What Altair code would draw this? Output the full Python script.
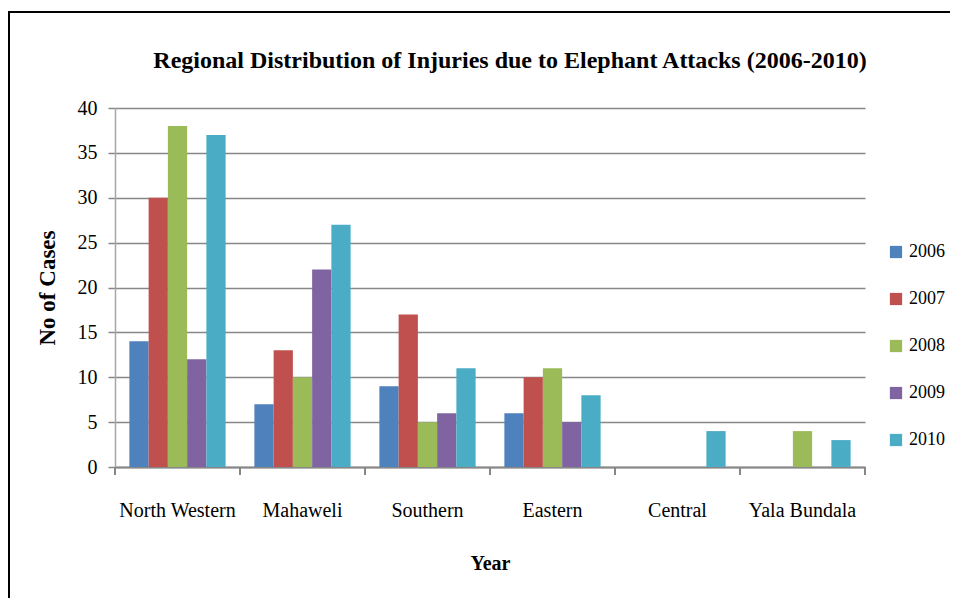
import altair as alt
import pandas as pd

regions = ["North Western", "Mahaweli", "Southern", "Eastern", "Central", "Yala Bundala"]
years = ["2006", "2007", "2008", "2009", "2010"]
cases_2006 = [14, 7, 9, 6, 0, 0]
cases_2007 = [30, 13, 17, 10, 0, 0]
cases_2008 = [38, 10, 5, 11, 0, 4]
cases_2009 = [12, 22, 6, 5, 0, 0]
cases_2010 = [37, 27, 11, 8, 4, 3]
colors = ["#4F81BD", "#C0504D", "#9BBB59", "#8064A2", "#4BACC6"]
y_ticks = [0, 5, 10, 15, 20, 25, 30, 35, 40]
title_text = "Regional Distribution of Injuries due to Elephant Attacks (2006-2010)"

series = [cases_2006, cases_2007, cases_2008, cases_2009, cases_2010]
rows = []
for yr, vals in zip(years, series):
    for reg, v in zip(regions, vals):
        rows.append({"region": reg, "year": yr, "cases": v})
df = pd.DataFrame(rows)

W, H = 750, 359
FONT = "Liberation Serif"

bars = alt.Chart(df).mark_bar().encode(
    x=alt.X("region:N", sort=regions,
            scale=alt.Scale(paddingInner=0.23, paddingOuter=0.115),
            axis=alt.Axis(title="Year", labelAngle=0, ticks=False, grid=False,
                          domainColor="#878787", domainWidth=2,
                          labelPadding=33, labelFont=FONT, labelFontSize=20,
                          labelColor="black", titleFont=FONT, titleFontSize=20,
                          titleFontWeight="bold", titleColor="black",
                          titleY=96, titleX=W / 2, titleBaseline="middle")),
    xOffset=alt.XOffset("year:N", sort=years),
    y=alt.Y("cases:Q", scale=alt.Scale(domain=[0, 40], nice=False),
            axis=alt.Axis(title="No of Cases", values=y_ticks, grid=True,
                          gridColor="#878787", gridWidth=1.6,
                          domainColor="#A6A6A6", domainWidth=1.5,
                          tickColor="#878787", tickSize=7, tickWidth=1.5,
                          labelPadding=11, labelFont=FONT, labelFontSize=20,
                          labelColor="black", titleFont=FONT, titleFontSize=23,
                          titleFontWeight="bold", titleColor="black",
                          titleX=-68, titleY=H / 2, titleAngle=-90,
                          titleAlign="center", titleBaseline="middle")),
    color=alt.Color("year:N", sort=years,
                    scale=alt.Scale(domain=years, range=colors),
                    legend=alt.Legend(orient="none", legendX=772, legendY=135,
                                      title=None, symbolType="square",
                                      symbolSize=150, symbolStrokeWidth=0,
                                      labelFont=FONT, labelFontSize=18,
                                      labelColor="black", rowPadding=29,
                                      labelOffset=4, padding=0)),
)

reg_df = pd.DataFrame({"region": regions})
tick_scale = alt.Scale(paddingInner=0, paddingOuter=0)
ticks_left = alt.Chart(reg_df).mark_rule(color="#878787", strokeWidth=2).encode(
    x=alt.X("region:N", sort=regions, scale=tick_scale, bandPosition=0, axis=None),
    y=alt.value(H), y2=alt.value(H + 8),
)
ticks_right = alt.Chart(reg_df).transform_filter(
    alt.datum.region == regions[-1]
).mark_rule(color="#878787", strokeWidth=2).encode(
    x=alt.X("region:N", sort=regions, scale=tick_scale, bandPosition=1, axis=None),
    y=alt.value(H), y2=alt.value(H + 8),
)
ticks = alt.layer(ticks_left, ticks_right)

frame_df = pd.DataFrame({"k": [0]})
frame_top = alt.Chart(frame_df).mark_rule(color="black", strokeWidth=2).encode(
    x=alt.value(-107), x2=alt.value(835), y=alt.value(-96))
frame_left = alt.Chart(frame_df).mark_rule(color="black", strokeWidth=2).encode(
    x=alt.value(-106), y=alt.value(-96), y2=alt.value(490))

chart = alt.layer(bars, ticks, frame_top, frame_left).resolve_scale(
    x="independent"
).properties(
    width=W, height=H,
    title=alt.TitleParams(title_text, font=FONT, fontSize=24, fontWeight="bold",
                          color="black", anchor="middle", dx=20, dy=62, offset=0),
    autosize=alt.AutoSizeParams(type="none"),
    padding={"left": 107, "top": 100, "right": 85, "bottom": 132},
).configure_view(stroke=None)

chart.save("out.html", embed_options={"renderer": "svg", "actions": False})
